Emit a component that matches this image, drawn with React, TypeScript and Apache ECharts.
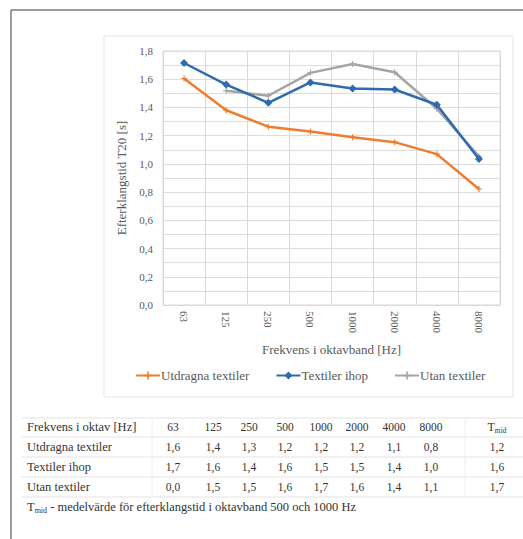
import React, { useEffect, useRef } from "react";
import * as echarts from "echarts";

const categories = ["63", "125", "250", "500", "1000", "2000", "4000", "8000"];
const utdragna = [1.605, 1.38, 1.264, 1.229, 1.189, 1.154, 1.069, 0.822];
const ihop = [1.715, 1.562, 1.433, 1.577, 1.534, 1.527, 1.419, 1.034];
const utan = [null, 1.518, 1.483, 1.645, 1.708, 1.649, 1.391, 1.053];

const seriesNames = ["Utdragna textiler", "Textiler ihop", "Utan textiler"];
const seriesColors = ["#ED7D31", "#2F69AE", "#A5A5A5"];

const tableHeader = ["Frekvens i oktav [Hz]", "63", "125", "250", "500", "1000", "2000", "4000", "8000"];
const tableRowLabels = ["Utdragna textiler", "Textiler ihop", "Utan textiler"];
const tableUtdragna = ["1,6", "1,4", "1,3", "1,2", "1,2", "1,2", "1,1", "0,8", "1,2"];
const tableIhop = ["1,7", "1,6", "1,4", "1,6", "1,5", "1,5", "1,4", "1,0", "1,6"];
const tableUtan = ["0,0", "1,5", "1,5", "1,6", "1,7", "1,6", "1,4", "1,1", "1,7"];
const footnote = " - medelvärde för efterklangstid i oktavband 500 och 1000 Hz";

const FONT = "Liberation Serif";
const plus = "path://M0,4 L10,4 L10,6 L0,6 Z M4,0 L6,0 L6,10 L4,10 Z";

export default function App() {
  const ref = useRef<HTMLDivElement>(null);
  useEffect(() => {
    if (!ref.current) return;
    const chart = echarts.init(ref.current, null, { renderer: "svg" });

    const colX = [27, 173, 213, 249, 285, 321, 357, 394, 431];
    const tmidX = 497;
    const rowY = [427, 447, 467, 487];
    const tableRows = [tableUtdragna, tableIhop, tableUtan];
    const txtColor = "#333333";
    const graphics: any[] = [];

    graphics.push({ type: "line", shape: { x1: 11, y1: 10, x2: 11, y2: 539 }, style: { stroke: "#7a7a7a", lineWidth: 1.5 } });
    graphics.push({ type: "line", shape: { x1: 11, y1: 10, x2: 523, y2: 10 }, style: { stroke: "#7a7a7a", lineWidth: 1.5 } });
    graphics.push({ type: "rect", shape: { x: 104, y: 36, width: 409, height: 361 }, style: { fill: "none", stroke: "#e6e6e6", lineWidth: 1 }, z: -1 });
    [418, 437, 457, 477, 497].forEach((y) => {
      graphics.push({ type: "line", shape: { x1: 22, y1: y, x2: 523, y2: y }, style: { stroke: "#e3e3e3", lineWidth: 1 } });
    });
    [152, 465].forEach((x) => {
      graphics.push({ type: "line", shape: { x1: x, y1: 418, x2: x, y2: 497 }, style: { stroke: "#eeeeee", lineWidth: 1 } });
    });

    const cellText = (text: string, x: number, y: number, align: string, size: number) => ({
      type: "text",
      x,
      y,
      style: {
        text,
        fill: txtColor,
        fontFamily: FONT,
        fontSize: size,
        align,
        verticalAlign: "middle",
      },
    });

    tableHeader.forEach((h, i) => {
      graphics.push(cellText(h, colX[i], rowY[0], i === 0 ? "left" : "center", i === 0 ? 12.5 : 11.5));
    });
    graphics.push({
      type: "text",
      x: tmidX,
      y: rowY[0],
      style: {
        text: "{t|T}{s|mid}",
        align: "center",
        verticalAlign: "middle",
        rich: {
          t: { fontFamily: FONT, fontSize: 12, fill: txtColor },
          s: { fontFamily: FONT, fontSize: 7.5, fill: txtColor, padding: [6, 0, 0, 0] },
        },
      },
    });
    tableRows.forEach((row, r) => {
      graphics.push(cellText(tableRowLabels[r], colX[0], rowY[r + 1], "left", 12.5));
      row.forEach((v, i) => {
        const x = i < 8 ? colX[i + 1] : tmidX;
        graphics.push(cellText(v, x, rowY[r + 1], "center", 11.5));
      });
    });
    graphics.push({
      type: "text",
      x: 27,
      y: 507,
      style: {
        text: "{t|T}{s|mid}{n|" + footnote + "}",
        align: "left",
        verticalAlign: "middle",
        rich: {
          t: { fontFamily: FONT, fontSize: 12.5, fill: txtColor },
          s: { fontFamily: FONT, fontSize: 8, fill: txtColor, padding: [6, 0, 0, 0] },
          n: { fontFamily: FONT, fontSize: 12.5, fill: txtColor },
        },
      },
    });

    const dataSets = [utdragna, ihop, utan];
    const symbols = [plus, "diamond", plus];
    const symbolSizes = [6, 8, 6];

    chart.setOption({
      animation: false,
      backgroundColor: "#ffffff",
      textStyle: { fontFamily: FONT },
      grid: { left: 163, right: 23, top: 51, bottom: 234, show: true, borderColor: "#d9d9d9", borderWidth: 1 },
      legend: {
        left: 130,
        top: 364,
        itemWidth: 24,
        itemHeight: 10,
        itemGap: 26,
        data: seriesNames,
        textStyle: { fontFamily: FONT, fontSize: 13, color: "#595959", padding: [0, 0, 0, -4] },
      },
      xAxis: {
        type: "category",
        data: categories,
        boundaryGap: true,
        name: "Frekvens i oktavband [Hz]",
        nameLocation: "middle",
        nameGap: 38,
        nameTextStyle: { fontFamily: FONT, fontSize: 13, color: "#595959" },
        axisLine: { show: true, lineStyle: { color: "#d9d9d9" } },
        axisTick: { show: false },
        axisLabel: { rotate: -90, margin: 6, fontFamily: FONT, fontSize: 11, color: "#595959" },
        splitLine: { show: true, lineStyle: { color: "#d9d9d9" } },
      },
      yAxis: {
        type: "value",
        min: 0,
        max: 1.8,
        interval: 0.1,
        name: "Efterklangstid T20 [s]",
        nameLocation: "middle",
        nameGap: 34,
        nameTextStyle: { fontFamily: FONT, fontSize: 13, color: "#595959" },
        axisLine: { show: false },
        axisTick: { show: false },
        axisLabel: {
          margin: 10,
          fontFamily: FONT,
          fontSize: 11,
          color: "#595959",
          formatter: (v: number) => (Math.round(v * 10) % 2 === 0 ? v.toFixed(1).replace(".", ",") : ""),
        },
        splitLine: { show: true, lineStyle: { color: "#dcdcdc" } },
      },
      graphic: graphics,
      series: dataSets.map((d, i) => ({
        name: seriesNames[i],
        type: "line",
        data: d,
        connectNulls: false,
        symbol: symbols[i],
        symbolSize: symbolSizes[i],
        showSymbol: true,
        lineStyle: { color: seriesColors[i], width: 2.5 },
        itemStyle: { color: seriesColors[i] },
        z: i === 1 ? 3 : 2,
      })),
    });
    return () => chart.dispose();
  }, []);
  return (
    <div
      ref={ref}
      style={{ position: "fixed", left: 0, top: 0, width: 523, height: 539, background: "#fff" }}
    />
  );
}
